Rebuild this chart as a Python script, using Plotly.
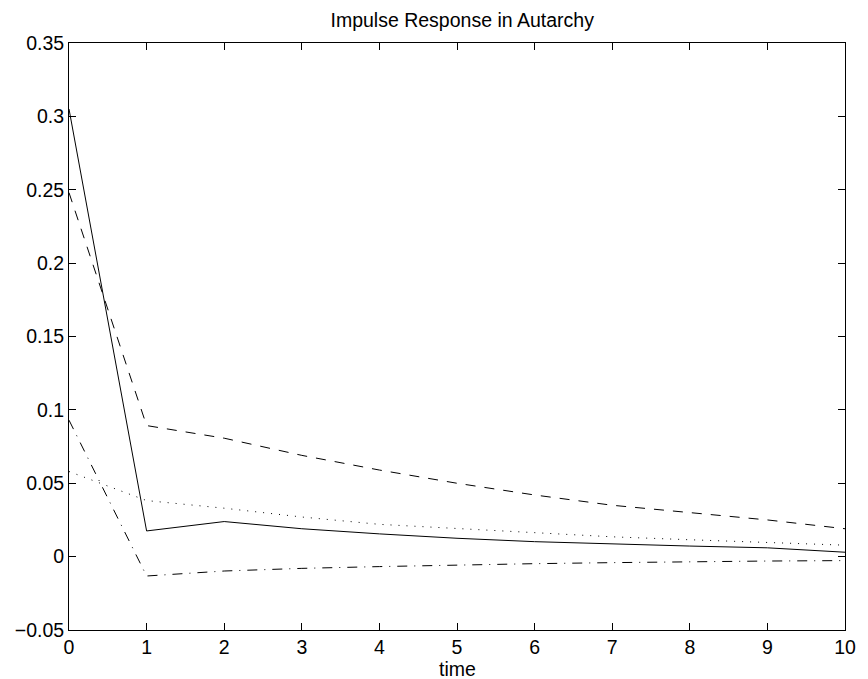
import plotly.graph_objects as go

# Data
time = [0, 1, 2, 3, 4, 5, 6, 7, 8, 9, 10]
solid = [0.305, 0.0175, 0.0239, 0.019, 0.0155, 0.0125, 0.0102, 0.0085, 0.0072, 0.006, 0.003]
dashed = [0.248, 0.0893, 0.0807, 0.069, 0.059, 0.050, 0.042, 0.035, 0.030, 0.025, 0.019]
dotted = [0.058, 0.0382, 0.033, 0.027, 0.022, 0.019, 0.016, 0.0135, 0.0115, 0.0098, 0.0078]
dashdot = [0.093, -0.0132, -0.0098, -0.008, -0.0068, -0.0057, -0.0048, -0.0041, -0.0034, -0.003, -0.0027]

x_ticks = list(range(0, 11))
y_ticks = [-0.05, 0, 0.05, 0.1, 0.15, 0.2, 0.25, 0.3, 0.35]
y_ticktext = ["\u22120.05", "0", "0.05", "0.1", "0.15", "0.2", "0.25", "0.3", "0.35"]

FONT = "Liberation Sans, Arial, Helvetica, sans-serif"
FS = 19.5

fig = go.Figure()
for vals, dash in [(solid, "solid"), (dashed, "10px,9px"), (dotted, "1px,7px"), (dashdot, "10px,7px,1px,7px")]:
    fig.add_trace(go.Scatter(x=time, y=vals, mode="lines",
                             line=dict(color="black", width=1, dash=dash),
                             showlegend=False, hoverinfo="skip"))

axis_common = dict(showline=True, linecolor="black", linewidth=1, mirror="ticks",
                   ticks="inside", ticklen=7, tickwidth=1, tickcolor="black",
                   showgrid=False, zeroline=False,
                   tickfont=dict(family=FONT, size=FS, color="black"))

fig.update_xaxes(range=[0, 10], tickvals=x_ticks, ticktext=[str(v) for v in x_ticks], **axis_common)
fig.update_yaxes(range=[-0.05, 0.35], tickvals=y_ticks, ticktext=y_ticktext, **axis_common)

fig.update_layout(
    width=868, height=679,
    margin=dict(l=69, r=12, t=43, b=49, pad=0),
    plot_bgcolor="white", paper_bgcolor="white",
    font=dict(family=FONT, size=FS, color="black"),
    title=dict(text="Impulse Response in Autarchy", x=0.5325, xanchor="center",
               y=1 - 20 / 679, yanchor="middle",
               font=dict(family=FONT, size=FS, color="black")),
    annotations=[dict(text="time", xref="paper", yref="paper", x=0.5, y=-38.5 / 587,
                      xanchor="center", yanchor="middle", showarrow=False,
                      font=dict(family=FONT, size=FS, color="black"))],
)

fig.write_html("out.html")
